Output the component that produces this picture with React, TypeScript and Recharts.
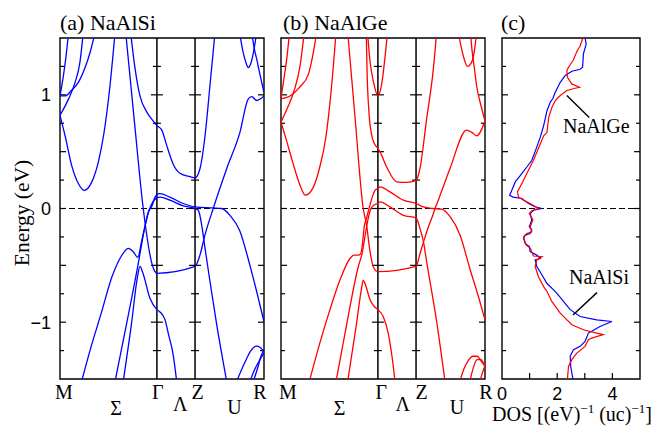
import React from "react";
import {
  LineChart,
  Line,
  XAxis,
  YAxis,
  ReferenceLine,
  ReferenceArea,
  ScatterChart,
  Scatter,
} from "recharts";

type Pair = [number, number];

// k path in arbitrary units: M = 0 ... R = 10
const kGamma = 4.75;
const kZ = 6.62;
const kEnd = 10;
const kLabels = ["M", "Σ", "Γ", "Λ", "Z", "U", "R"];
const kLabelPos = [0, 2.75, 4.75, 5.9, 6.62, 8.55, 10];

const eMin = -1.5;
const eMax = 1.5;
const eLabelTicks = [-1, 0, 1];
const eMarks = [-1.25, -1, -0.75, -0.5, -0.25, 0, 0.25, 0.5, 0.75, 1, 1.25];
const dosMax = 5;
const dosLabelTicks = [0, 2, 4];
const dosMarks = [1, 2, 3, 4];

// NaAlSi bands, [k, E]
const siA1: Pair[] = [[0, 0.82], [0.25, 0.64], [0.57, 0.38], [0.9, 0.22], [1.18, 0.16], [1.55, 0.23], [1.88, 0.41], [2.21, 0.73], [2.45, 1.08], [2.7, 1.55]];
const siL1: Pair[] = [[0, 0.99], [0.15, 1.15], [0.29, 1.33], [0.42, 1.55]];
const siL2: Pair[] = [[0, 0.99], [0.25, 0.99], [0.57, 1.04], [0.9, 1.11], [1.23, 1.24], [1.47, 1.37], [1.72, 1.55]];
const siL3: Pair[] = [[0, 0.82], [0.41, 0.96], [0.74, 1.11], [0.98, 1.29], [1.14, 1.55]];
const siB: Pair[] = [[3.46, 1.55], [3.68, 1.23], [3.92, 0.99], [4.25, 0.85], [4.66, 0.75], [4.75, 0.73], [4.99, 0.69], [5.23, 0.555], [5.55, 0.39], [5.88, 0.31], [6.37, 0.28], [6.62, 0.27], [6.86, 0.35], [7.11, 0.64], [7.35, 1.08], [7.6, 1.55]];
const siC: Pair[] = [[3.22, 1.55], [3.65, 0.76], [4.08, 0.0], [4.5, -0.48], [4.66, -0.556], [4.75, -0.57], [6.62, -0.51], [6.86, -0.41], [7.11, -0.23], [7.51, 0.0], [8.17, 0.35], [8.82, 0.67], [9.23, 0.965], [9.4, 0.985], [9.64, 0.95], [10, 0.99]];
const siP: Pair[] = [[1.06, -1.52], [1.55, -1.2], [2.04, -0.91], [2.53, -0.61], [2.94, -0.44], [3.35, -0.35], [3.59, -0.38], [3.81, -0.43], [4.0, -0.29], [4.17, -0.15], [4.33, -0.03], [4.5, 0.02], [4.66, 0.1], [4.75, 0.123], [4.9, 0.13], [5.39, 0.1], [6.04, 0.044], [6.62, 0.014], [7.51, 0.005], [7.93, 0.0], [8.33, -0.06], [8.82, -0.2], [9.31, -0.5], [9.64, -0.73], [10, -0.995]];
const siQ: Pair[] = [[2.7, -1.52], [3.28, -1.0], [3.84, -0.48], [4.12, -0.2], [4.36, -0.02], [4.56, 0.06], [4.75, 0.093], [4.9, 0.1], [5.39, 0.073], [6.04, 0.023], [6.62, 0.0], [6.78, -0.015], [6.95, -0.15], [7.11, -0.35], [7.35, -0.64], [7.68, -1.02], [8.17, -1.52]];
const siR: Pair[] = [[3.1, -1.52], [3.5, -1.02], [3.8, -0.6], [3.92, -0.51], [4.05, -0.56], [4.41, -0.79], [4.75, -0.89], [4.9, -0.91], [5.15, -0.98], [5.31, -1.1], [5.55, -1.29], [5.72, -1.52]];
const siT1: Pair[] = [[8.8, 1.55], [8.97, 1.38], [9.12, 1.28], [9.23, 1.24], [9.36, 1.28], [9.51, 1.4], [9.64, 1.55]];
const siT2: Pair[] = [[9.4, 1.55], [9.51, 1.42], [9.66, 1.3], [9.8, 1.18], [9.9, 1.1], [10, 1.02]];
const siBR1: Pair[] = [[8.66, -1.52], [9.07, -1.35], [9.36, -1.25], [9.64, -1.21], [9.8, -1.22], [10, -1.26]];
const siBR2: Pair[] = [[9.31, -1.52], [9.56, -1.41], [9.8, -1.33], [10, -1.27]];
const siBR3: Pair[] = [[9.48, -1.52], [9.71, -1.39], [9.85, -1.3], [10, -1.24]];
const siBands = [siA1, siL1, siL2, siL3, siB, siC, siP, siQ, siR, siT1, siT2, siBR1, siBR2, siBR3];

// NaAlGe bands, [k, E]
const geA1: Pair[] = [[0, 0.76], [0.25, 0.61], [0.57, 0.41], [0.9, 0.22], [1.19, 0.117], [1.55, 0.175], [1.88, 0.35], [2.21, 0.64], [2.45, 1.02], [2.7, 1.55]];
const geL1: Pair[] = [[0, 0.97], [0.15, 1.15], [0.29, 1.33], [0.42, 1.55]];
const geL2: Pair[] = [[0, 0.965], [0.44, 0.99], [0.93, 1.07], [1.34, 1.18], [1.54, 1.33], [1.75, 1.55]];
const geL3: Pair[] = [[0, 0.76], [0.33, 0.89], [0.65, 1.04], [0.93, 1.25], [1.14, 1.55]];
const geG: Pair[] = [[4.24, 1.55], [4.36, 1.3], [4.55, 1.1], [4.75, 0.99], [4.94, 1.1], [5.08, 1.3], [5.22, 1.55]];
const geB: Pair[] = [[4.18, 1.55], [4.22, 1.2], [4.31, 0.85], [4.44, 0.65], [4.58, 0.57], [4.75, 0.53], [4.85, 0.5], [5.18, 0.365], [5.67, 0.235], [6.13, 0.23], [6.62, 0.245], [6.81, 0.35], [7.14, 0.79], [7.47, 1.23], [7.63, 1.55]];
const geC: Pair[] = [[3.27, 1.55], [3.63, 0.8], [4.03, 0.0], [4.2, -0.15], [4.34, -0.35], [4.5, -0.5], [4.61, -0.54], [4.75, -0.556], [6.62, -0.51], [6.81, -0.4], [7.01, -0.28], [7.21, -0.17], [7.47, -0.044], [7.55, 0.0], [7.71, 0.073], [8.28, 0.35], [9.1, 0.69], [9.35, 0.67], [9.59, 0.64], [10, 0.77]];
const geP: Pair[] = [[1.39, -1.52], [1.91, -1.18], [2.4, -0.89], [2.89, -0.63], [3.38, -0.44], [3.58, -0.41], [3.77, -0.41], [3.9, -0.4], [4.0, -0.3], [4.08, -0.16], [4.2, -0.08], [4.36, 0.03], [4.51, 0.12], [4.63, 0.165], [4.75, 0.175], [4.85, 0.19], [5.34, 0.146], [6.0, 0.073], [6.62, 0.044], [6.98, 0.014], [7.47, 0.0], [7.88, -0.005], [8.28, -0.07], [8.77, -0.23], [9.26, -0.53], [9.75, -0.82], [10, -0.98]];
const geQ: Pair[] = [[2.7, -1.52], [3.24, -1.0], [3.79, -0.51], [3.97, -0.4], [4.14, -0.22], [4.26, -0.1], [4.41, 0.0], [4.56, 0.03], [4.75, 0.044], [4.85, 0.058], [5.34, 0.014], [6.0, -0.06], [6.62, -0.082], [6.81, -0.175], [6.98, -0.29], [7.14, -0.47], [7.63, -0.995], [8.04, -1.52]];
const geR: Pair[] = [[3.27, -1.52], [3.68, -1.04], [3.95, -0.7], [4.03, -0.63], [4.14, -0.67], [4.36, -0.8], [4.56, -0.86], [4.75, -0.89], [5.01, -0.95], [5.26, -1.1], [5.44, -1.3], [5.59, -1.52]];
const geT1: Pair[] = [[8.69, 1.55], [8.94, 1.34], [9.14, 1.25], [9.35, 1.29], [9.49, 1.4], [9.59, 1.55]];
const geT2: Pair[] = [[9.29, 1.55], [9.36, 1.4], [9.49, 1.22], [9.59, 1.08], [9.84, 0.88], [10, 0.77]];
const geBR1: Pair[] = [[8.77, -1.52], [8.97, -1.41], [9.17, -1.34], [9.41, -1.3], [9.61, -1.3], [9.84, -1.35], [10, -1.39]];
const geBR2: Pair[] = [[9.26, -1.52], [9.43, -1.4], [9.61, -1.33], [9.8, -1.33], [10, -1.39]];
const geBR3: Pair[] = [[9.75, -1.52], [9.83, -1.47], [10, -1.38]];
const geBands = [geA1, geL1, geL2, geL3, geG, geB, geC, geP, geQ, geR, geT1, geT2, geBR1, geBR2, geBR3];

// DOS, [E, states/(eV uc)]
const siDos: Pair[] = [[1.5, 3.01], [1.447, 3.05], [1.36, 2.95], [1.243, 2.92], [1.225, 2.83], [1.208, 2.53], [1.17, 2.29], [1.11, 2.11], [1.023, 1.93], [0.965, 1.84], [0.936, 1.75], [0.86, 1.63], [0.73, 1.51], [0.63, 1.39], [0.54, 1.26], [0.424, 1.08], [0.365, 0.9], [0.29, 0.66], [0.234, 0.48], [0.146, 0.33], [0.117, 0.276], [0.1, 0.4], [0.088, 0.72], [0.044, 0.96], [0.015, 1.2], [0, 1.45], [-0.015, 1.14], [-0.044, 1.02], [-0.1, 1.08], [-0.16, 0.99], [-0.19, 1.08], [-0.22, 1.02], [-0.234, 0.84], [-0.263, 0.78], [-0.307, 0.84], [-0.336, 0.99], [-0.38, 1.02], [-0.41, 1.26], [-0.44, 1.39], [-0.453, 1.2], [-0.51, 1.26], [-0.585, 1.45], [-0.66, 1.63], [-0.716, 1.87], [-0.746, 1.99], [-0.8, 2.17], [-0.89, 2.47], [-0.95, 2.83], [-0.98, 3.43], [-0.994, 3.98], [-1.038, 3.55], [-1.08, 3.25], [-1.096, 3.13], [-1.17, 3.01], [-1.213, 2.83], [-1.243, 2.59], [-1.3, 2.47], [-1.39, 2.49], [-1.5, 2.57]];
const geDos: Pair[] = [[1.5, 2.93], [1.43, 2.83], [1.39, 2.73], [1.3, 2.57], [1.243, 2.41], [1.213, 2.35], [1.155, 2.37], [1.096, 2.53], [1.067, 2.81], [1.058, 2.65], [1.038, 2.35], [0.994, 2.11], [0.95, 1.93], [0.89, 1.81], [0.8, 1.69], [0.67, 1.63], [0.64, 1.51], [0.57, 1.39], [0.424, 1.14], [0.307, 0.9], [0.22, 0.72], [0.146, 0.56], [0.1, 0.6], [0.073, 0.78], [0.044, 1.02], [0.009, 1.26], [0, 1.32], [-0.02, 1.08], [-0.044, 0.99], [-0.1, 1.12], [-0.16, 1.02], [-0.205, 1.08], [-0.22, 0.9], [-0.25, 0.78], [-0.32, 0.87], [-0.35, 1.03], [-0.418, 1.14], [-0.424, 1.45], [-0.453, 1.26], [-0.51, 1.2], [-0.6, 1.32], [-0.687, 1.51], [-0.73, 1.63], [-0.82, 1.81], [-0.92, 2.11], [-1.023, 2.53], [-1.067, 2.95], [-1.096, 3.43], [-1.11, 3.67], [-1.14, 3.25], [-1.155, 3.13], [-1.213, 3.01], [-1.272, 2.71], [-1.33, 2.53], [-1.39, 2.41], [-1.5, 2.37]];

// label pointer lines in the DOS panel, [dos, E]
const geLabelLine: Pair[] = [[2.35, 0.994], [3.16, 0.8]];
const siLabelLine: Pair[] = [[2.57, -0.936], [3.44, -0.74]];

const SERIF = "'Liberation Serif', 'Times New Roman', serif";
const SANS = "'Liberation Sans', Arial, sans-serif";
const BLUE = "#0000ff";
const RED = "#ff0000";
const PLOT_TOP = 38;
const PLOT_H = 341;
const CHART_H = 433;
const X_AXIS_H = CHART_H - PLOT_TOP - PLOT_H;
const PX_PER_K = 20.4;
const PX_PER_DOS = 27.6;
const PX_PER_E = PLOT_H / (eMax - eMin);

const kLabelDy = [20, 36, 20, 32, 20, 35, 20];

const toPts = (a: Pair[]) => a.map(([k, e]) => ({ k, e }));
const markLen = (e: number) => (Number.isInteger(e * 2) ? 6 : 4);

function KTick(dx: number[]) {
  return (props: any) => {
    const { x, y, payload } = props;
    const i = kLabelPos.indexOf(payload.value);
    if (i < 0) return <g />;
    return (
      <text x={x + dx[i]} y={y + kLabelDy[i]} textAnchor="middle" fontFamily={SERIF} fontSize={20} fill="#000">
        {kLabels[i]}
      </text>
    );
  };
}

function BandPanel(props: {
  bands: Pair[][];
  color: string;
  left: number;
  width: number;
  marginLeft: number;
  marginRight: number;
  showY: boolean;
  dx: number[];
}) {
  const { bands, color, left, width, marginLeft, marginRight, showY, dx } = props;
  return (
    <div style={{ position: "absolute", left, top: 0 }}>
      <LineChart width={width} height={CHART_H} margin={{ top: PLOT_TOP, right: marginRight, bottom: 0, left: marginLeft }}>
        <XAxis
          type="number"
          dataKey="k"
          domain={[0, kEnd]}
          allowDataOverflow
          ticks={kLabelPos}
          interval={0}
          tick={KTick(dx)}
          tickSize={0}
          tickMargin={0}
          axisLine={false}
          tickLine={false}
          height={X_AXIS_H}
        />
        <YAxis
          type="number"
          dataKey="e"
          domain={[eMin, eMax]}
          allowDataOverflow
          ticks={eLabelTicks}
          interval={0}
          hide={!showY}
          width={60}
          tickSize={0}
          tickMargin={9}
          axisLine={false}
          tickLine={false}
          tickFormatter={(v: number) => (v < 0 ? "\u2212" + Math.abs(v) : String(v))}
          tick={{ fontSize: 18, fontFamily: SANS, fill: "#000" }}
        />
        <ReferenceLine y={0} stroke="#000" strokeWidth={1.1} strokeDasharray="6 3" />
        <ReferenceLine x={kGamma} stroke="#000" strokeWidth={1.5} />
        <ReferenceLine x={kZ} stroke="#000" strokeWidth={1.5} />
        {eMarks.flatMap((e) => {
          const d = markLen(e) / PX_PER_K;
          const segs: Pair[] = [[0, d], [kEnd - d, kEnd], [kGamma - d, kGamma + d], [kZ - d, kZ + d]];
          return segs.map(([a, b], i) => (
            <ReferenceLine key={`m${e}-${i}`} segment={[{ x: a, y: e }, { x: b, y: e }]} stroke="#000" strokeWidth={1.2} />
          ));
        })}
        {bands.map((b, i) => (
          <Line
            key={i}
            data={toPts(b)}
            dataKey="e"
            type="monotone"
            stroke={color}
            strokeWidth={1.3}
            dot={false}
            activeDot={false}
            isAnimationActive={false}
          />
        ))}
        <ReferenceArea x1={0} x2={kEnd} y1={eMin} y2={eMax} fill="none" stroke="#000" strokeWidth={1.4} />
      </LineChart>
    </div>
  );
}

const noShape = () => <g />;
const toDos = (a: Pair[]) => a.map(([e, dos]) => ({ dos, e }));

function DosPanel() {
  return (
    <div style={{ position: "absolute", left: 496, top: 0 }}>
      <ScatterChart width={150} height={CHART_H} margin={{ top: PLOT_TOP, right: 6, bottom: 0, left: 6 }}>
        <XAxis
          type="number"
          dataKey="dos"
          domain={[0, dosMax]}
          allowDataOverflow
          ticks={dosLabelTicks}
          interval={0}
          tickSize={0}
          tickMargin={8}
          axisLine={false}
          tickLine={false}
          height={X_AXIS_H}
          tick={{ fontSize: 18, fontFamily: SANS, fill: "#000" }}
        />
        <YAxis type="number" dataKey="e" domain={[eMin, eMax]} allowDataOverflow hide />
        <ReferenceLine y={0} stroke="#000" strokeWidth={1.1} strokeDasharray="6 3" />
        {eMarks.flatMap((e) => {
          const d = markLen(e) / PX_PER_DOS;
          const segs: Pair[] = [[0, d], [dosMax - d, dosMax]];
          return segs.map(([a, b], i) => (
            <ReferenceLine key={`d${e}-${i}`} segment={[{ x: a, y: e }, { x: b, y: e }]} stroke="#000" strokeWidth={1.2} />
          ));
        })}
        {dosMarks.map((v) => (
          <ReferenceLine
            key={`b${v}`}
            segment={[{ x: v, y: eMin }, { x: v, y: eMin + 6 / PX_PER_E }]}
            stroke="#000"
            strokeWidth={1.2}
          />
        ))}
        <Scatter data={toDos(siDos)} stroke={BLUE} fill={BLUE} line={{ stroke: BLUE, strokeWidth: 1.2 }} lineType="joint" shape={noShape} isAnimationActive={false} />
        <Scatter data={toDos(geDos)} stroke={RED} fill={RED} line={{ stroke: RED, strokeWidth: 1.2 }} lineType="joint" shape={noShape} isAnimationActive={false} />
        <ReferenceLine
          segment={geLabelLine.map(([x, y]) => ({ x, y }))}
          stroke="#000"
          strokeWidth={1.4}
        />
        <ReferenceLine
          segment={siLabelLine.map(([x, y]) => ({ x, y }))}
          stroke="#000"
          strokeWidth={1.4}
        />
        <ReferenceArea x1={0} x2={dosMax} y1={eMin} y2={eMax} fill="none" stroke="#000" strokeWidth={1.4} />
      </ScatterChart>
    </div>
  );
}

export default function App() {
  return (
    <div style={{ position: "absolute", left: 0, top: 0, width: 663, height: CHART_H, background: "#fff" }}>
      <BandPanel bands={siBands} color={BLUE} left={0} width={270} marginLeft={0} marginRight={6} showY dx={[4, 0, 1, 0, 2.5, 0, -4]} />
      <BandPanel bands={geBands} color={RED} left={276} width={218} marginLeft={5} marginRight={9} showY={false} dx={[7, 2.5, 3.5, 1.5, 5.5, 1.5, 1]} />
      <DosPanel />
      <svg width={663} height={CHART_H} style={{ position: "absolute", left: 0, top: 0, pointerEvents: "none" }}>
        <g fontFamily={SERIF} fill="#000">
          <text x={60} y={30} fontSize={22}>(a) NaAlSi</text>
          <text x={283} y={30} fontSize={22}>(b) NaAlGe</text>
          <text x={501} y={30} fontSize={22}>(c)</text>
          <text x={29} y={213} fontSize={21.5} textAnchor="middle" transform="rotate(-90 29 213)">Energy (eV)</text>
          <text x={563} y={133} fontSize={20}>NaAlGe</text>
          <text x={569} y={284} fontSize={20}>NaAlSi</text>
          <text x={492} y={421} fontSize={20}>
            DOS [(eV)<tspan dy={-8} fontSize={13}>{"\u22121"}</tspan>
            <tspan dy={8}>{" (uc)"}</tspan>
            <tspan dy={-8} fontSize={13}>{"\u22121"}</tspan>
            <tspan dy={8}>]</tspan>
          </text>
        </g>
      </svg>
    </div>
  );
}
